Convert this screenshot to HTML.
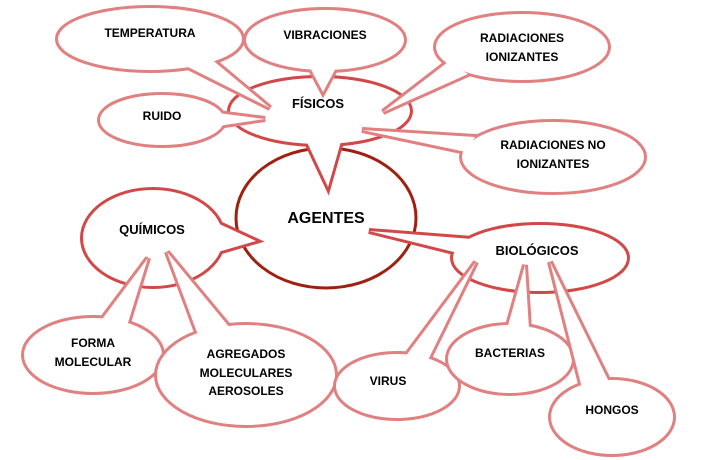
<!DOCTYPE html>
<html><head><meta charset="utf-8"><style>
html,body{margin:0;padding:0;background:#fff;}
svg{display:block}
text{font-family:"Liberation Sans",sans-serif;font-weight:bold;fill:#000;text-anchor:middle}
.l .s{stroke:#e08080;stroke-width:6;fill:#e08080}
.m .s{stroke:#d24848;stroke-width:6;fill:#d24848}
.w{fill:#fff;stroke:none}
</style></head><body>
<svg width="707" height="460" viewBox="0 0 707 460">
<!-- AGENTES -->
<ellipse cx="326" cy="218" rx="90" ry="70" fill="#fff" stroke="#a02010" stroke-width="3"/>
<!-- FISICOS -->
<g class="m"><g class="s"><ellipse cx="320" cy="111" rx="90" ry="33"/><polygon points="305,138 328,187 342,138"/></g>
<ellipse class="w" cx="320" cy="111" rx="90" ry="33"/><polygon class="w" points="305,138 328,187 342,138"/></g>
<!-- TEMPERATURA -->
<g class="l"><g class="s"><ellipse cx="150" cy="39" rx="92" ry="31"/><polygon points="178,62 270,108 210,58"/></g>
<ellipse class="w" cx="150" cy="39" rx="92" ry="31"/><polygon class="w" points="178,62 270,108 210,58"/></g>
<!-- VIBRACIONES -->
<g class="l"><g class="s"><ellipse cx="325" cy="40" rx="79" ry="30"/><polygon points="308,64 323,92 338,64"/></g>
<ellipse class="w" cx="325" cy="40" rx="79" ry="30"/><polygon class="w" points="308,64 323,92 338,64"/></g>
<!-- RADIACIONES IONIZANTES -->
<g class="l"><g class="s"><ellipse cx="522" cy="47" rx="86" ry="33"/><polygon points="448,62 383,112 468,74"/></g>
<ellipse class="w" cx="522" cy="47" rx="86" ry="33"/><polygon class="w" points="448,62 383,112 468,74"/></g>
<!-- RUIDO -->
<g class="l"><g class="s"><ellipse cx="162" cy="120" rx="62" ry="25"/><polygon points="218,113 265,119 218,126"/></g>
<ellipse class="w" cx="162" cy="120" rx="62" ry="25"/><polygon class="w" points="218,113 265,119 218,126"/></g>
<!-- RADIACIONES NO IONIZANTES -->
<g class="l"><g class="s"><ellipse cx="553" cy="157" rx="91" ry="35"/><polygon points="475,137 362,130 466,152"/></g>
<ellipse class="w" cx="553" cy="157" rx="91" ry="35"/><polygon class="w" points="475,137 362,130 466,152"/></g>
<!-- QUIMICOS -->
<g class="m"><g class="s"><ellipse cx="153" cy="238" rx="70" ry="48"/><polygon points="215,222 256,241 218,252"/></g>
<ellipse class="w" cx="153" cy="238" rx="70" ry="48"/><polygon class="w" points="215,222 256,241 218,252"/></g>
<!-- FORMA MOLECULAR -->
<g class="l"><g class="s"><ellipse cx="93" cy="355" rx="69" ry="37"/><polygon points="100,322 148,258 127,326"/></g>
<ellipse class="w" cx="93" cy="355" rx="69" ry="37"/><polygon class="w" points="100,322 148,258 127,326"/></g>
<!-- AGREGADOS -->
<g class="l"><g class="s"><ellipse cx="246" cy="375" rx="89" ry="50"/><polygon points="198,335 167,252 230,328"/></g>
<ellipse class="w" cx="246" cy="375" rx="89" ry="50"/><polygon class="w" points="198,335 167,252 230,328"/></g>
<!-- BIOLOGICOS -->
<g class="m"><g class="s"><ellipse cx="540" cy="258" rx="87" ry="33"/><polygon points="472,239 369,231 458,253"/></g>
<ellipse class="w" cx="540" cy="258" rx="87" ry="33"/><polygon class="w" points="472,239 369,231 458,253"/></g>
<!-- VIRUS -->
<g class="l"><g class="s"><ellipse cx="397" cy="386" rx="61" ry="32"/><polygon points="405,357 476,262 428,360"/></g>
<ellipse class="w" cx="397" cy="386" rx="61" ry="32"/><polygon class="w" points="405,357 476,262 428,360"/></g>
<!-- BACTERIAS -->
<g class="l"><g class="s"><ellipse cx="510" cy="359" rx="62" ry="34"/><polygon points="507,329 525,265 529,329"/></g>
<ellipse class="w" cx="510" cy="359" rx="62" ry="34"/><polygon class="w" points="507,329 525,265 529,329"/></g>
<!-- HONGOS -->
<g class="l"><g class="s"><ellipse cx="612" cy="417" rx="61" ry="37"/><polygon points="583,392 550,262 610,384"/></g>
<ellipse class="w" cx="612" cy="417" rx="61" ry="37"/><polygon class="w" points="583,392 550,262 610,384"/></g>

<text x="150" y="37" font-size="12">TEMPERATURA</text>
<text x="325" y="39" font-size="12">VIBRACIONES</text>
<text x="522" y="42" font-size="12">RADIACIONES</text>
<text x="522" y="61" font-size="12">IONIZANTES</text>
<text x="318" y="108" font-size="13">FÍSICOS</text>
<text x="162" y="120" font-size="12">RUIDO</text>
<text x="553" y="149" font-size="12">RADIACIONES NO</text>
<text x="553" y="168" font-size="12">IONIZANTES</text>
<text x="326" y="223" font-size="16">AGENTES</text>
<text x="152" y="234" font-size="13">QUÍMICOS</text>
<text x="537" y="255" font-size="13">BIOLÓGICOS</text>
<text x="93" y="347" font-size="12">FORMA</text>
<text x="93" y="366" font-size="12">MOLECULAR</text>
<text x="246" y="358" font-size="12">AGREGADOS</text>
<text x="246" y="377" font-size="12">MOLECULARES</text>
<text x="246" y="395" font-size="12">AEROSOLES</text>
<text x="388" y="385" font-size="12">VIRUS</text>
<text x="510" y="357" font-size="12">BACTERIAS</text>
<text x="612" y="414" font-size="12">HONGOS</text>
</svg>
</body></html>
